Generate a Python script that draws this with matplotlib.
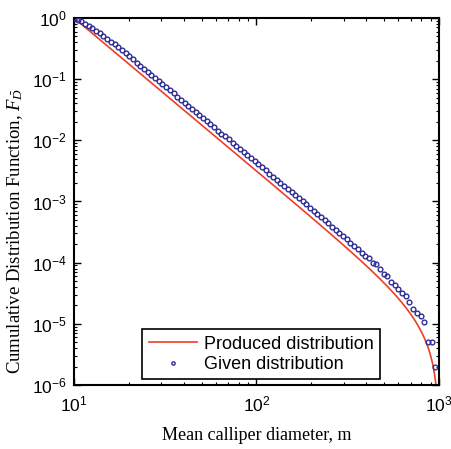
import numpy as np
import matplotlib
matplotlib.use("Agg")
import matplotlib.pyplot as plt
from matplotlib.ticker import FuncFormatter, LogLocator, NullFormatter

plt.rcParams["font.family"] = ["Liberation Sans", "DejaVu Sans"]
plt.rcParams["mathtext.fontset"] = "custom"
plt.rcParams["mathtext.rm"] = "Liberation Sans"
plt.rcParams["mathtext.it"] = "Liberation Serif:italic"
plt.rcParams["mathtext.default"] = "it"

# Produced distribution: truncated power law
d_min = 10.0
d_max = 1000.0
exponent = 2.5

# Given distribution: sampling grid of the calliper diameters
n_samples = 100

# log10 of the given CDF at the first 99 grid diameters (the last one is zero)
given_log10_cdf = [
    0.000, -0.026, -0.056, -0.092, -0.127, -0.166, -0.206, -0.249, -0.293, -0.339,
    -0.385, -0.433, -0.481, -0.527, -0.577, -0.628, -0.678, -0.729, -0.779, -0.830,
    -0.880, -0.931, -0.981, -1.032, -1.082, -1.133, -1.183, -1.234, -1.284, -1.335,
    -1.385, -1.436, -1.486, -1.537, -1.587, -1.638, -1.688, -1.739, -1.789, -1.840,
    -1.890, -1.936, -1.986, -2.037, -2.087, -2.138, -2.188, -2.239, -2.289, -2.340,
    -2.390, -2.443, -2.493, -2.544, -2.595, -2.646, -2.697, -2.748, -2.798, -2.849,
    -2.900, -2.946, -2.997, -3.049, -3.100, -3.152, -3.203, -3.255, -3.306, -3.358,
    -3.410, -3.463, -3.515, -3.568, -3.621, -3.675, -3.729, -3.784, -3.839, -3.890,
    -3.930, -4.000, -4.018, -4.110, -4.180, -4.220, -4.318, -4.372, -4.437, -4.490,
    -4.546, -4.638, -4.763, -4.830, -4.873, -4.970, -5.301, -5.301, -5.699,
]

x_ticks = [1e1, 1e2, 1e3]
y_ticks = [1e-6, 1e-5, 1e-4, 1e-3, 1e-2, 1e-1, 1e0]

grid = np.logspace(np.log10(d_min), np.log10(d_max), n_samples)
given_d = grid[:len(given_log10_cdf)]
given_cdf = 10.0 ** np.array(given_log10_cdf)

# dense evaluation of the produced CDF, refined towards the upper cut-off
d_line = np.unique(np.concatenate([
    np.logspace(np.log10(d_min), np.log10(d_max), 2000),
    d_max * (1 - np.logspace(-9, -1, 400)),
]))
d_line = d_line[d_line < d_max]
produced_cdf = (d_line ** -exponent - d_max ** -exponent) / (d_min ** -exponent - d_max ** -exponent)

fig = plt.figure(figsize=(4.52, 4.49), dpi=100)
ax = fig.add_axes([0.1637, 0.1425, 0.8075, 0.8175])

ax.plot(d_line, produced_cdf, color="#ef3e23", lw=1.2, label="Produced distribution", zorder=2)
ax.plot(given_d, given_cdf, linestyle="none", marker="o", ms=3.4, mew=1.0,
        mfc="none", mec="#2d2d96", label="Given distribution", zorder=3)

ax.set_xscale("log")
ax.set_yscale("log")
ax.set_xlim(1e1, 1e3)
ax.set_ylim(1e-6, 1e0)

fmt = FuncFormatter(lambda v, p: r"$\mathrm{10^{%d}}$" % int(round(np.log10(v))))
ax.xaxis.set_major_locator(plt.FixedLocator(x_ticks))
ax.yaxis.set_major_locator(plt.FixedLocator(y_ticks))
ax.xaxis.set_major_formatter(fmt)
ax.yaxis.set_major_formatter(fmt)
ax.xaxis.set_minor_locator(LogLocator(base=10, subs=np.arange(2, 10), numticks=20))
ax.yaxis.set_minor_locator(LogLocator(base=10, subs=np.arange(2, 10), numticks=20))
ax.xaxis.set_minor_formatter(NullFormatter())
ax.yaxis.set_minor_formatter(NullFormatter())

ax.tick_params(which="both", direction="in", top=True, right=True, colors="black",
               labelsize=12.5)
ax.tick_params(which="major", length=5, width=1.0)
ax.tick_params(which="minor", length=2.5, width=0.8)
ax.tick_params(axis="x", pad=7)
ax.tick_params(axis="y", pad=5)
for s in ax.spines.values():
    s.set_linewidth(1.5)

ax.set_xlabel("Mean calliper diameter, m", family="Liberation Serif", fontsize=13, labelpad=9)
ax.set_ylabel(r"Cumulative Distribution Function, $F_{\bar{D}}$", family="Liberation Serif",
              fontsize=13.5)
ax.yaxis.set_label_coords(-0.133, 0.42)

leg = ax.legend(loc="lower right", bbox_to_anchor=(0.838, 0.016), borderaxespad=0,
                fontsize=13, frameon=True, fancybox=False, handlelength=2.7,
                handletextpad=0.35, borderpad=0.35, labelspacing=0.17, markerscale=0.7)
leg.get_frame().set_edgecolor("black")
leg.get_frame().set_linewidth(1.2)
leg.get_frame().set_alpha(1)

fig.savefig("out.png", dpi=100, facecolor="white")
